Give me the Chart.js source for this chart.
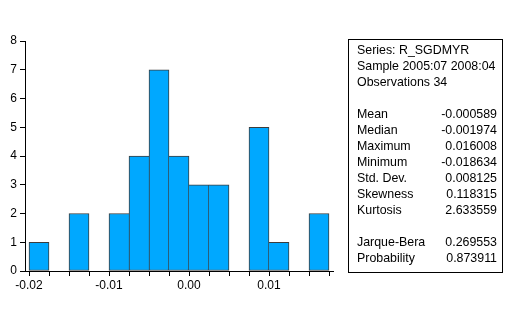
<!DOCTYPE html>
<html>
<head>
<meta charset="utf-8">
<script src="https://cdn.jsdelivr.net/npm/chart.js@4"></script>
<style>
  html, body { margin: 0; padding: 0; background: #fff; }
  canvas { display: block; }
</style>
</head>
<body>
<canvas id="hist" width="512" height="324"></canvas>
<script>
// histogram bins (width 0.0025) and counts
const binCenters = [-0.01875, -0.01625, -0.01375, -0.01125, -0.00875, -0.00625, -0.00375, -0.00125,
                    0.00125, 0.00375, 0.00625, 0.00875, 0.01125, 0.01375, 0.01625];
const counts = [1, 0, 2, 0, 2, 4, 7, 4, 3, 3, 0, 5, 1, 0, 2];

const xTicks = [-0.02, -0.0175, -0.015, -0.0125, -0.01, -0.0075, -0.005, -0.0025,
                0, 0.0025, 0.005, 0.0075, 0.01, 0.0125, 0.015, 0.0175];
const xLabels = ["-0.02", "-0.01", "0.00", "0.01"];
const yTicks = [0, 1, 2, 3, 4, 5, 6, 7, 8];

// statistics panel
const headerLines = ["Series: R_SGDMYR", "Sample 2005:07 2008:04", "Observations 34"];
const statNames = ["Mean", "Median", "Maximum", "Minimum", "Std. Dev.", "Skewness", "Kurtosis"];
const statValues = ["-0.000589", "-0.001974", "0.016008", "-0.018634", "0.008125", "0.118315", "2.633559"];
const testNames = ["Jarque-Bera", "Probability"];
const testValues = ["0.269553", "0.873911"];

const FONT = "'Liberation Sans', Arial, sans-serif";

/* stats box drawn next to the plot */
const statsBox = {
  id: "statsBox",
  afterDraw(chart) {
    const ctx = chart.ctx;
    const left = 348, top = 39, w = 154, h = 233;
    const tx = left + 9, vx = left + w - 5;
    const step = 16;
    let y = top + 12;

    ctx.save();
    ctx.strokeStyle = "#000";
    ctx.lineWidth = 1;
    ctx.strokeRect(left + 0.5, top + 0.5, w, h);

    ctx.fillStyle = "#000";
    ctx.font = "12.4px " + FONT;
    ctx.textBaseline = "middle";

    headerLines.forEach((s) => {
      ctx.textAlign = "left";
      ctx.fillText(s, tx, y);
      y += step;
    });
    y += step;
    const rows = (names, vals) => {
      names.forEach((n, i) => {
        ctx.textAlign = "left";
        ctx.fillText(n, tx, y);
        ctx.textAlign = "right";
        ctx.fillText(vals[i], vx, y);
        y += step;
      });
    };
    rows(statNames, statValues);
    y += step;
    rows(testNames, testValues);
    ctx.restore();
  },
};

// draw each shared edge once, by the taller bar; empty bins get nothing
function edges(ctx) {
  const i = ctx.dataIndex;
  const c = counts[i];
  if (!c) return 0;
  const prev = i > 0 ? counts[i - 1] : 0;
  const next = i < counts.length - 1 ? counts[i + 1] : 0;
  return { top: 1, bottom: 1, left: prev < c ? 1 : 0, right: next <= c ? 1 : 0 };
}

const isLabelTick = (v) => Math.abs(v * 100 - Math.round(v * 100)) < 1e-6;

new Chart(document.getElementById("hist"), {
  type: "bar",
  data: {
    datasets: [
      {
        data: binCenters.map((x, i) => ({ x: x, y: counts[i] })),
        backgroundColor: (ctx) => (counts[ctx.dataIndex] ? "#00a8ff" : "rgba(0,0,0,0)"),
        borderColor: "#3c3c3c",
        borderWidth: edges,
        borderSkipped: false,
        barPercentage: 1,
        categoryPercentage: 1,
      },
    ],
  },
  options: {
    responsive: false,
    animation: false,
    events: [],
    layout: { padding: { top: 41, right: 179, bottom: 0, left: 0 } },
    plugins: { legend: { display: false }, tooltip: { enabled: false } },
    scales: {
      x: {
        type: "linear",
        offset: false,
        min: -0.0205,
        max: 0.018,
        afterBuildTicks: (s) => { s.ticks = xTicks.map((v) => ({ value: v })); },
        afterFit: (s) => { s.height = 53; },
        grid: { offset: false, drawOnChartArea: false, drawTicks: true, tickLength: 5, color: "#000" },
        border: { color: "#000", width: 1 },
        ticks: {
          autoSkip: false,
          maxRotation: 0,
          padding: 2,
          color: "#000",
          font: { family: FONT, size: 12 },
          callback: (v) => (isLabelTick(v) ? xLabels[Math.round(v * 100) + 2] : ""),
        },
      },
      y: {
        min: 0,
        max: 8,
        afterBuildTicks: (s) => { s.ticks = yTicks.map((v) => ({ value: v })); },
        afterFit: (s) => { s.width = 25; },
        grid: { drawOnChartArea: false, drawTicks: true, tickLength: 5, color: "#000" },
        border: { color: "#000", width: 1 },
        ticks: {
          padding: 3,
          color: "#000",
          font: { family: FONT, size: 12 },
        },
      },
    },
  },
  plugins: [statsBox],
});
</script>
</body>
</html>
